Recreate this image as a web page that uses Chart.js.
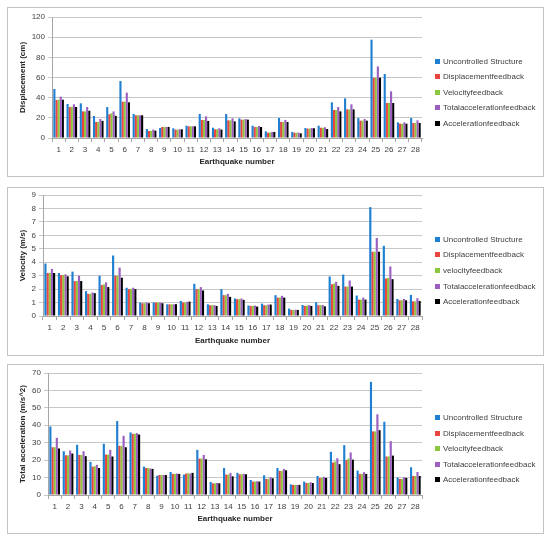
<!DOCTYPE html>
<html><head><meta charset="utf-8">
<script src="https://cdn.jsdelivr.net/npm/chart.js@4/dist/chart.umd.min.js"></script>
<style>
body{margin:0;background:#fff;width:550px;height:541px;position:relative;overflow:hidden;font-family:"Liberation Sans",Arial,sans-serif;}
.panel{position:absolute;border:1px solid #c3c3c3;box-sizing:border-box;background:#fff;}
canvas{position:absolute;}
.leg{position:absolute;font-size:8px;color:#404040;white-space:nowrap;line-height:10px;}
.leg span{display:inline-block;width:5px;height:5px;margin-right:3px;vertical-align:0px;}
</style></head><body>
<script>
const categories = ["1","2","3","4","5","6","7","8","9","10","11","12","13","14","15","16","17","18","19","20","21","22","23","24","25","26","27","28"];
const seriesColors = ["#1f7fd0","#e8463e","#8dc63f","#9b5fc0","#000000"];

// Panel 1: Displacement (cm)
const dispLabels = ["Uncontrolled Structure","Displacementfeedback","Velocityfeedback","Totalaccelerationfeedback","Accelerationfeedback"];
const dispUncontrolled = [48.6,33.7,34.4,21.8,30.7,56.5,23.8,8.9,9.9,9.6,12.2,23.8,10.2,23.8,19.5,12.2,6.6,19.8,6,9.9,12.2,35.4,39.3,19.8,97.5,63.5,15.5,19.8];
const dispDisplacementFb = [37.7,30.7,26.4,15.9,23.5,36,22.5,7,10.9,8.3,11.6,17.9,8.6,17.5,18.2,10.9,5.3,15.9,5.3,9.3,10.2,27.8,28.4,17.2,59.8,34.7,14.2,14.9];
const dispVelocityFb = [38,31,26.4,16,24.5,36,22.5,7,11,8.3,11.6,17.9,8.6,17.5,18.2,10.9,5.3,15.9,5.3,9.3,10.2,27.8,28.4,17.2,59.8,34.7,14.2,14.9];
const dispTotalAccFb = [41,33.4,30.7,18.8,26.4,45,22.5,8.3,11,8.6,11.6,21.5,9.6,19.5,18.8,11.9,6,17.9,5.3,9.9,10.6,30.7,33.4,18.8,71,46.3,15.5,17.5];
const dispAccelerationFb = [38,30.7,27,17,22,35.4,22.5,7.3,11,8.6,11.6,16.9,8.3,16.5,18.2,10.9,6,15.9,4.6,9.6,8.9,26.4,28.4,17.2,59.8,34.7,14.2,14.9];

// Panel 2: Velocity (m/s)
const velLabels = ["Uncontrolled Structure","Displacementfeedback","velocityfeedback","Totalaccelerationfeedback","Accelerationfeedback"];
const velUncontrolled = [3.9,3.2,3.3,1.85,3.0,4.5,2.1,1.0,1.0,0.87,1.12,2.4,0.87,2.0,1.3,0.78,0.92,1.55,0.55,0.82,1.02,2.94,3.08,1.52,8.1,5.22,1.27,1.57];
const velDisplacementFb = [3.2,3.05,2.6,1.65,2.3,3.0,2.0,0.95,1.0,0.87,1.0,2.0,0.8,1.55,1.25,0.75,0.8,1.37,0.45,0.75,0.8,2.36,2.19,1.22,4.78,2.79,1.17,1.09];
const velVelocityFb = [3.2,3.05,2.6,1.65,2.35,3.0,2.0,0.95,1.0,0.87,1.0,2.0,0.8,1.55,1.25,0.75,0.8,1.37,0.45,0.77,0.8,2.41,2.19,1.22,4.78,2.84,1.17,1.09];
const velTotalAccFb = [3.5,3.1,3.0,1.75,2.5,3.6,2.1,1.0,1.0,0.87,1.05,2.15,0.8,1.65,1.3,0.78,0.85,1.5,0.47,0.8,0.82,2.54,2.64,1.37,5.8,3.68,1.27,1.32];
const velAccelerationFb = [3.2,2.95,2.6,1.7,2.15,2.85,2.0,0.95,0.95,0.88,1.07,1.9,0.75,1.42,1.2,0.7,0.85,1.37,0.45,0.75,0.72,2.24,2.19,1.22,4.78,2.74,1.17,1.12];

// Panel 3: Total acceleration (m/s^2)
const accLabels = ["Uncontrolled Structure","Displacementfeedback","Velocityfeedback","Totalaccelerationfeedback","Accelerationfeedback"];
const accUncontrolled = [39.3,25.1,28.8,19,29.4,42.4,35.9,16.3,11.1,13.2,11.7,25.9,7.5,15.5,12.7,8.6,11.3,15.5,6.1,7.7,10.9,24.8,28.6,14,64.9,42,10,15.9];
const accDisplacementFb = [27.4,22.8,23,16.3,23.2,28.2,35.1,15.5,11.5,12.1,12.3,20.9,6.7,11.7,11.9,7.7,9.2,13.8,5.8,6.9,9.8,18.6,20,12.1,36.5,22.1,9.2,10.9];
const accVelocityFb = [27.4,22.8,23,16.5,23.2,28.2,35.1,15.5,11.5,12.1,12.5,20.9,6.7,11.7,11.9,7.7,9.2,13.8,5.8,6.9,9.8,19.2,20.9,12.1,36.5,22.1,9.2,10.9];
const accTotalAccFb = [32.8,25.5,25.1,17.3,25.9,34,35.5,15.2,11.5,12.3,12.3,23,6.9,12.7,12.1,7.9,10.2,15,5.8,7.3,10.4,21.1,24.4,13.1,46.3,30.9,10.2,13.2];
const accAccelerationFb = [26.7,23.8,22.3,15.5,22.1,27.4,34.7,15,11.5,12.1,12.7,20.5,6.7,10.7,11.9,7.7,9.6,14.2,5.8,6.9,9.8,17.7,20.3,12.1,37.2,22.6,9.8,10.9];

const xTitle = "Earthquake number";

const panels = [
  {box:[7,7,537,170], plot:{left:52,right:422,top:17,bottom:138}, yTitle:"Displacement (cm)", yMax:120, yStep:20,
   labels:dispLabels, series:[dispUncontrolled,dispDisplacementFb,dispVelocityFb,dispTotalAccFb,dispAccelerationFb], legendY:[62,77,93,108,124]},
  {box:[7,187,537,169], plot:{left:43,right:422,top:195,bottom:316}, yTitle:"Velocity (m/s)", yMax:9, yStep:1,
   labels:velLabels, series:[velUncontrolled,velDisplacementFb,velVelocityFb,velTotalAccFb,velAccelerationFb], legendY:[240,255,271,287,302]},
  {box:[7,364,537,170], plot:{left:48,right:422,top:373,bottom:495}, yTitle:"Total acceleration (m/s^2)", yMax:70, yStep:10,
   labels:accLabels, series:[accUncontrolled,accDisplacementFb,accVelocityFb,accTotalAccFb,accAccelerationFb], legendY:[418,434,449,465,480]}
];

const FONT = "'Liberation Sans', Arial, sans-serif";

panels.forEach(p => {
  const [bx,by,bw,bh] = p.box;
  const div = document.createElement('div');
  div.className='panel';
  div.style.left=bx+'px'; div.style.top=by+'px'; div.style.width=bw+'px'; div.style.height=bh+'px';
  document.body.appendChild(div);

  const cw = 430, ch = bh;
  const cv = document.createElement('canvas');
  cv.width = cw; cv.height = ch;
  cv.style.left = bx+'px'; cv.style.top = by+'px';
  cv.style.width = cw+'px'; cv.style.height = ch+'px';
  document.body.appendChild(cv);

  const yW = p.plot.left - bx;
  const xH = (by+bh) - p.plot.bottom;
  new Chart(cv.getContext('2d'), {
    type:'bar',
    data:{
      labels: categories,
      datasets: p.series.map((s,i)=>({label:p.labels[i], data:s, backgroundColor:seriesColors[i], borderWidth:0,
        categoryPercentage:0.8, barPercentage:1.0}))
    },
    options:{
      responsive:false, animation:false, devicePixelRatio:1,
      layout:{padding:{left:0, top:p.plot.top-by, right:cw-(p.plot.right-bx), bottom:0}},
      plugins:{legend:{display:false}, tooltip:{enabled:false}},
      scales:{
        x:{
          grid:{display:true, drawOnChartArea:false, drawTicks:true, tickLength:4, color:'#a6a6a6', offset:true},
          border:{display:true, color:'#a6a6a6'},
          ticks:{font:{family:FONT,size:8}, color:'#404040', autoSkip:false, maxRotation:0, padding:3},
          title:{display:true, text:xTitle, font:{family:FONT,size:8,weight:'bold'}, color:'#262626', padding:{top:0,bottom:10}},
          afterFit: s => { s.height = xH; }
        },
        y:{
          min:0, max:p.yMax,
          grid:{color:'#c8c8c8', tickLength:4, drawTicks:true},
          border:{display:true, color:'#a6a6a6'},
          ticks:{stepSize:p.yStep, font:{family:FONT,size:8}, color:'#404040', padding:3},
          title:{display:true, text:p.yTitle, font:{family:FONT,size:8,weight:'bold'}, color:'#262626', padding:{top:11,bottom:0}},
          afterFit: s => { s.width = yW; }
        }
      }
    }
  });

  p.labels.forEach((lab,i)=>{
    const d = document.createElement('div');
    d.className='leg';
    d.style.left='435px';
    d.style.top=(p.legendY[i]-5)+'px';
    const sw = document.createElement('span');
    sw.style.background = seriesColors[i];
    d.appendChild(sw);
    d.appendChild(document.createTextNode(lab));
    document.body.appendChild(d);
  });
});
</script>
</body></html>
